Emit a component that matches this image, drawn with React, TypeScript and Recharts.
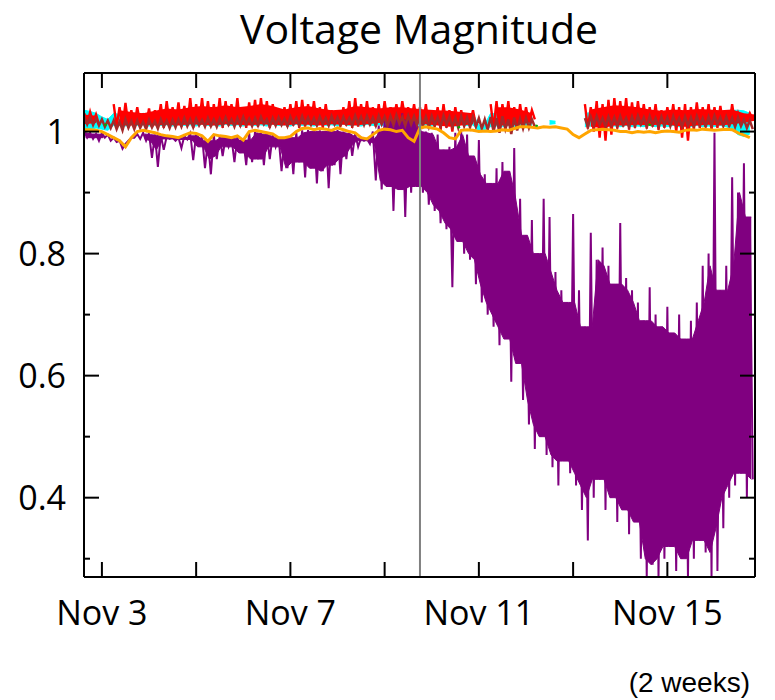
import { ComposedChart, Line, Area, XAxis, YAxis, ReferenceLine } from "recharts";

// time grid: one bin every 3 hours, starting Nov 2 15:00 (day-of-month units)
const T0 = 2.625;
const STEP = 0.125;
// coarser grid for the dense body of the red trace (every 6 hours)
const CORE_STEP = 0.25;

// bus voltage envelopes per bin (p.u.), hi = top of the bin, lo = bottom of the bin
const purpleHi = [
  1.0, 0.998, 0.996, 0.998, 0.995, 0.99, 0.985, 0.98, 0.99, 0.996,
  0.998, 0.997, 0.995, 0.994, 0.992, 0.99, 0.99, 0.993, 0.997, 0.996,
  0.993, 0.985, 0.994, 0.992, 0.99, 0.99, 0.992, 0.986, 0.998, 1.0,
  0.998, 0.996, 0.995, 0.99, 0.99, 0.99, 0.998, 1.002, 1.003, 1.0,
  1.002, 1.0, 1.0, 1.003, 1.0, 0.998, 0.996, 0.99, 0.988, 1.0,
  1.01, 1.02, 1.025, 1.02, 1.03, 1.025, 1.02, 1.015, 1.0, 0.998,
  0.995, 0.97, 0.975, 0.998, 1.0, 0.995, 0.96, 0.986, 0.93, 0.915,
  0.94, 0.95, 0.935, 0.973, 0.89, 0.83, 0.855, 0.8, 0.89, 0.86,
  0.77, 0.74, 0.72, 0.865, 0.74, 0.68, 0.834, 0.79, 0.81, 0.78,
  0.75, 0.85, 0.76, 0.74, 0.72, 0.69, 0.745, 0.7, 0.68, 0.713,
  0.67, 0.7, 0.66, 0.69, 0.72, 0.78, 0.8, 0.998, 0.74, 0.78,
  0.925, 0.9, 0.948, 0.86,
];
const purpleLo = [
  0.99, 0.988, 0.985, 0.99, 0.985, 0.983, 0.972, 0.985, 0.99, 0.988,
  0.985, 0.957, 0.942, 0.97, 0.988, 0.985, 0.973, 0.987, 0.953, 0.975,
  0.94, 0.93, 0.955, 0.96, 0.975, 0.95, 0.965, 0.945, 0.95, 0.955,
  0.945, 0.955, 0.975, 0.935, 0.94, 0.93, 0.95, 0.925, 0.94, 0.915,
  0.935, 0.907, 0.945, 0.93, 0.955, 0.96, 0.975, 0.985, 0.98, 0.92,
  0.905, 0.91, 0.87, 0.905, 0.86, 0.9, 0.91, 0.9, 0.88, 0.87,
  0.85, 0.84, 0.745, 0.82, 0.8, 0.79, 0.75, 0.72, 0.7, 0.68,
  0.65, 0.66, 0.59, 0.62, 0.56, 0.52, 0.48, 0.5, 0.47, 0.45,
  0.42, 0.46, 0.44, 0.42, 0.38, 0.33, 0.4, 0.43, 0.38, 0.4,
  0.36, 0.38, 0.34, 0.36, 0.3, 0.27, 0.29, 0.27, 0.3, 0.32,
  0.28, 0.3, 0.27, 0.3, 0.33, 0.31, 0.27, 0.28, 0.35, 0.4,
  0.42, 0.44, 0.4, 0.43,
];

const redHi = [
  1.03, 1.032, 1.028, null, null, 1.045, 1.04, 1.047, 1.035, 1.04,
  1.03, 1.038, 1.035, 1.045, 1.05, 1.04, 1.048, 1.042, 1.055, 1.045,
  1.055, 1.05, 1.045, 1.055, 1.05, 1.045, 1.055, 1.04, 1.048, 1.052,
  1.055, 1.05, 1.045, 1.035, 1.04, 1.045, 1.05, 1.052, 1.045, 1.05,
  1.04, 1.045, 1.035, 1.03, 1.04, 1.05, 1.055, 1.045, 1.05, 1.04,
  1.045, 1.05, 1.04, 1.045, 1.05, 1.04, 1.045, 1.04, 1.045, 1.035,
  1.04, 1.045, 1.035, 1.04, 1.035, 1.03, 1.035, null, null, 1.045,
  1.05, 1.045, 1.05, 1.04, 1.045, 1.04, 1.035, null, null, null,
  null, null, null, null, null, 1.045, 1.04, 1.05, 1.045, 1.052,
  1.055, 1.05, 1.055, 1.048, 1.05, 1.045, 1.04, 1.045, 1.035, 1.04,
  1.045, 1.04, 1.045, 1.04, 1.048, 1.04, 1.045, 1.04, 1.042, 1.035,
  1.045, 1.03, 1.025, 1.03,
];
const redLo = [
  1.012, 1.015, 1.012, null, null, 1.008, 1.006, 1.01, 1.008, 1.012,
  1.01, 1.008, 1.012, 1.006, 1.01, 1.012, 1.008, 1.01, 1.006, 1.012,
  1.01, 1.008, 1.012, 1.006, 1.01, 1.012, 1.008, 1.006, 1.01, 1.008,
  1.012, 1.006, 1.01, 1.012, 1.008, 1.01, 1.006, 1.008, 1.012, 1.01,
  1.006, 1.01, 1.012, 1.008, 1.01, 1.006, 1.008, 1.012, 1.01, 1.008,
  1.012, 1.015, 1.018, 1.015, 1.02, 1.015, 1.012, 1.008, 1.005, 1.008,
  1.003, 1.006, 1.0, 1.008, 1.01, 1.012, 1.01, null, null, 1.005,
  1.0, 1.008, 1.003, 1.006, 1.01, 1.015, 1.02, null, null, null,
  null, null, null, null, null, 1.005, 1.0, 0.99, 0.985, 0.995,
  1.005, 1.008, 1.003, 1.006, 1.01, 1.005, 1.008, 1.003, 1.006, 1.01,
  1.0, 0.99, 0.985, 1.003, 1.006, 1.008, 1.003, 1.006, 1.01, 1.008,
  1.012, 1.015, 1.018, 1.02,
];
// dense body of the red trace, on the 6-hour grid
const redCoreLo = [
  1.012, 1.014, null, 1.01, 1.01, 1.012, 1.01, 1.011, 1.01, 1.012,
  1.011, 1.01, 1.012, 1.011, 1.01, 1.012, 1.011, 1.01, 1.012, 1.011,
  1.01, 1.012, 1.011, 1.01, 1.012, 1.014, 1.016, 1.018, 1.015, 1.012,
  1.01, 1.008, 1.01, 1.012, null, 1.01, 1.01, 1.012, 1.016, null,
  null, null, null, 1.008, 1.006, 1.01, 1.01, 1.011, 1.01, 1.012,
  1.01, 1.008, 1.01, 1.011, 1.01, 1.012, 1.015, 1.018,
];
const redCoreHi = [
  1.028, 1.026, null, 1.035, 1.032, 1.03, 1.034, 1.038, 1.036, 1.04,
  1.042, 1.04, 1.043, 1.04, 1.042, 1.045, 1.042, 1.036, 1.04, 1.042,
  1.038, 1.035, 1.036, 1.042, 1.04, 1.038, 1.04, 1.04, 1.038, 1.036,
  1.035, 1.034, 1.032, 1.03, null, 1.04, 1.04, 1.036, 1.03, null,
  null, null, null, 1.036, 1.04, 1.043, 1.042, 1.04, 1.036, 1.034,
  1.036, 1.035, 1.037, 1.036, 1.035, 1.036, 1.03, 1.028,
];

const brownHi = [
  1.025, 1.024, 1.022, 1.02, 1.018, 1.018, 1.016, 1.02, 1.017, 1.018,
  1.016, 1.019, 1.017, 1.02, 1.018, 1.019, 1.02, 1.022, 1.02, 1.021,
  1.019, 1.022, 1.02, 1.021, 1.023, 1.02, 1.022, 1.024, 1.021, 1.022,
  1.024, 1.02, 1.022, 1.023, 1.021, 1.024, 1.022, 1.025, 1.023, 1.022,
  1.024, 1.022, 1.025, 1.023, 1.024, 1.022, 1.026, 1.024, 1.025, 1.023,
  1.026, 1.024, 1.025, 1.027, 1.024, 1.026, 1.025, 1.026, 1.024, 1.025,
  1.023, 1.026, 1.024, 1.022, 1.025, 1.023, 1.024, 1.022, 1.02, 1.024,
  1.022, 1.025, 1.02, 1.023, 1.021, 1.022, 1.02, null, null, null,
  null, null, null, null, null, 1.022, 1.024, 1.025, 1.022, 1.024,
  1.023, 1.025, 1.022, 1.024, 1.026, 1.023, 1.025, 1.022, 1.024, 1.023,
  1.025, 1.022, 1.024, 1.023, 1.025, 1.022, 1.024, 1.026, 1.023, 1.024,
  1.022, 1.023, 1.02, 1.018,
];
const brownLo = [
  1.012, 1.011, 1.01, 1.008, 1.006, 1.004, 1.002, 1.006, 1.004, 1.006,
  1.004, 1.007, 1.005, 1.008, 1.006, 1.007, 1.008, 1.009, 1.007, 1.01,
  1.008, 1.009, 1.008, 1.01, 1.011, 1.008, 1.01, 1.011, 1.009, 1.01,
  1.012, 1.008, 1.01, 1.011, 1.009, 1.012, 1.01, 1.012, 1.011, 1.01,
  1.012, 1.01, 1.012, 1.011, 1.012, 1.01, 1.013, 1.011, 1.012, 1.01,
  1.012, 1.01, 1.011, 1.013, 1.01, 1.012, 1.011, 1.01, 1.008, 1.01,
  1.008, 1.011, 1.008, 1.006, 1.009, 1.007, 1.008, 1.005, 1.003, 1.0,
  0.998, 1.004, 0.996, 1.002, 1.005, 1.006, 1.008, null, null, null,
  null, null, null, null, null, 1.008, 1.01, 1.011, 1.008, 1.01,
  1.009, 1.011, 1.008, 1.01, 1.012, 1.009, 1.011, 1.008, 1.01, 1.009,
  1.011, 1.008, 1.01, 1.009, 1.011, 1.008, 1.01, 1.012, 1.009, 1.01,
  1.008, 1.009, 1.006, 1.004,
];

const cyanHi = [
  1.035, 1.033, 1.03, 1.024, 1.02, 1.03, 1.028, 1.032, 1.03, 1.027,
  1.03, 1.028, 1.032, 1.03, 1.029, 1.031, 1.028, 1.03, 1.032, 1.029,
  1.03, 1.028, 1.031, 1.03, 1.029, 1.032, 1.03, 1.028, 1.03, 1.031,
  1.029, 1.03, 1.032, 1.028, 1.03, 1.031, 1.029, 1.03, 1.032, 1.028,
  1.03, 1.031, 1.029, 1.03, 1.032, 1.028, 1.03, 1.031, 1.029, 1.03,
  1.032, 1.03, 1.031, 1.029, 1.03, 1.032, 1.03, 1.035, 1.03, 1.031,
  1.029, 1.03, 1.028, 1.03, 1.031, 1.029, 1.03, 1.01, 1.012, 1.03,
  1.029, 1.031, 1.03, 1.028, 1.03, 1.031, 1.029, null, null, 1.018,
  1.017, null, null, null, null, 1.03, 1.031, 1.029, 1.03, 1.032,
  1.03, 1.028, 1.031, 1.03, 1.029, 1.032, 1.03, 1.028, 1.03, 1.031,
  1.029, 1.03, 1.032, 1.028, 1.03, 1.031, 1.029, 1.03, 1.032, 1.03,
  1.035, 1.035, 1.034, 1.03,
];
const cyanLo = [
  1.005, 1.003, 1.006, 1.004, 1.002, 1.01, 1.011, 1.009, 1.012, 1.01,
  1.011, 1.009, 1.012, 1.01, 1.011, 1.009, 1.012, 1.01, 1.011, 1.009,
  1.012, 1.01, 1.011, 1.009, 1.012, 1.01, 1.011, 1.009, 1.012, 1.01,
  1.011, 1.009, 1.012, 1.01, 1.011, 1.009, 1.012, 1.01, 1.011, 1.009,
  1.012, 1.01, 1.011, 1.009, 1.012, 1.01, 1.011, 1.009, 1.012, 1.01,
  1.011, 1.009, 1.012, 1.01, 1.011, 1.009, 1.012, 1.01, 1.011, 1.009,
  1.012, 1.01, 1.011, 1.009, 1.012, 1.01, 1.011, 1.0, 1.003, 1.008,
  1.009, 1.008, 1.01, 1.008, 1.009, 1.008, 1.01, null, null, 1.012,
  1.013, null, null, null, null, 1.008, 1.009, 1.008, 1.01, 1.008,
  1.009, 1.008, 1.01, 1.008, 1.009, 1.008, 1.01, 1.008, 1.009, 1.008,
  1.01, 1.008, 1.009, 1.008, 1.01, 1.008, 1.009, 1.008, 1.01, 1.008,
  1.004, 0.995, 0.992, 0.996,
];

const orange = [
  1.003, 1.003, 1.002, 1.0, 0.995, 0.99, 0.985, 0.975, 0.99, 1.0,
  1.002, 1.0, 0.998, 0.995, 0.993, 0.992, 0.99, 0.994, 0.998, 0.997,
  0.993, 0.984, 0.995, 0.993, 0.992, 0.99, 0.993, 0.986, 1.0, 1.002,
  1.0, 0.998, 0.996, 0.99, 0.99, 0.992, 1.0, 1.005, 1.006, 1.003,
  1.005, 1.004, 1.002, 1.006, 1.003, 1.0, 0.998, 0.99, 0.988, 0.995,
  1.002, 1.004, 1.003, 1.0, 1.002, 0.99, 0.984, 1.006, 1.008, 1.006,
  1.004, 0.998, 0.99, 0.988, 1.002, 1.003, 1.002, 1.0, 1.001, 1.0,
  1.001, 1.003, 1.002, 1.005, 1.008, 1.008, 1.007, 1.006, 1.008, 1.007,
  1.008, 1.006, 1.004, 0.995, 0.99, 0.996, 1.002, 1.003, 1.004, 1.003,
  1.002, 1.0, 1.0, 0.998, 1.0, 0.999, 1.0, 0.998, 1.0, 1.001,
  1.0, 0.999, 1.002, 1.003, 1.002, 1.004, 1.003, 1.002, 1.003, 1.004,
  1.003, 0.998, 0.994, 0.99,
];

// short green traces
const greenT = [3.05, 3.1, 10.55, 10.6, 12.2, 12.25, 14.6, 14.65];
const greenV = [1.01, 1.012, 1.006, 1.008, 1.01, 1.009, 1.012, 1.01];

const X_TICKS = [3, 5, 7, 9, 11, 13, 15];
const X_LABELS = [3, 7, 11, 15];
const Y_TICKS = [0.3, 0.4, 0.5, 0.6, 0.7, 0.8, 0.9, 1.0];
const EVENT_DAY = 9.75;

const X_DOMAIN: [number, number] = [2.62, 16.86];
const Y_DOMAIN: [number, number] = [0.27, 1.096];

// each bin becomes two rows: its top, then its bottom half a bin later
const rows = purpleHi.flatMap((_, i) => [
  { t: T0 + i * STEP, purple: purpleHi[i], red: redHi[i], brown: brownHi[i], orange: orange[i] },
  { t: T0 + i * STEP + STEP / 2, purple: purpleLo[i], red: redLo[i], brown: brownLo[i] },
]);

type Val = number | null;

const band = (lo: Val[], hi: Val[], t0: number, step: number) =>
  lo.map((l, k) => ({ t: t0 + k * step, v: l == null || hi[k] == null ? null : [l, hi[k]] }));

// solid part of a trace: the range that a bin shares with both neighbours
const sharedBand = (lo: Val[], hi: Val[]) =>
  lo.map((_, i) => {
    const js = [i - 1, i, i + 1].filter((j) => j >= 0 && j < lo.length);
    const los = js.map((j) => lo[j]);
    const his = js.map((j) => hi[j]);
    const t = T0 + i * STEP + STEP / 4;
    if (los.some((v) => v == null) || his.some((v) => v == null)) return { t, v: null };
    const top = Math.min(...(his as number[]));
    const bottom = Math.max(...(los as number[]));
    return { t, v: top > bottom ? [bottom, top] : null };
  });

const cyanBand = band(cyanLo, cyanHi, T0, STEP);
const redCore = band(redCoreLo, redCoreHi, T0, CORE_STEP);
const purpleCore = sharedBand(purpleLo, purpleHi);

const greenRows = greenT.map((t, i) => ({ t, green: greenV[i] }));
// break between the short traces
const greenData = greenRows.flatMap((r, i) => (i % 2 === 1 ? [r, { t: r.t + 0.01, green: null }] : [r]));

const FONT = "'Open Sans', 'Noto Sans', sans-serif";

function BottomTick(props: any) {
  const { x, y, payload } = props;
  const d = payload.value;
  return (
    <g>
      <line x1={x} y1={y} x2={x} y2={y - 15} stroke="#000" strokeWidth={2} />
      {X_LABELS.includes(d) && (
        <text x={x} y={y + 48} textAnchor="middle" fontSize={34} fontFamily={FONT} fill="#000">
          Nov {d}
        </text>
      )}
    </g>
  );
}

function TopTick(props: any) {
  const { x, y } = props;
  return <line x1={x} y1={y} x2={x} y2={y + 15} stroke="#000" strokeWidth={2} />;
}

const isMajor = (v: number) => Math.round(v * 10) % 2 === 0;

function LeftTick(props: any) {
  const { x, y, payload } = props;
  const v = payload.value;
  const len = isMajor(v) ? 15 : 6;
  return (
    <g>
      <line x1={x} y1={y} x2={x + len} y2={y} stroke="#000" strokeWidth={2} />
      {isMajor(v) && (
        <text x={x - 18} y={y + 12} textAnchor="end" fontSize={34} fontFamily={FONT} fill="#000">
          {v === 1 ? "1" : v.toFixed(1)}
        </text>
      )}
    </g>
  );
}

function RightTick(props: any) {
  const { x, y, payload } = props;
  const len = isMajor(payload.value) ? 15 : 6;
  return <line x1={x} y1={y} x2={x - len} y2={y} stroke="#000" strokeWidth={2} />;
}

const axisLine = { stroke: "#000", strokeWidth: 2 };
const ids = { xAxisId: "b", yAxisId: "l" };

export default function App() {
  return (
    <div style={{ position: "fixed", left: 0, top: 0, width: 775, height: 700, background: "#fff" }}>
      <ComposedChart width={775} height={700} data={rows} margin={{ top: 72, right: 19, bottom: 122, left: 83 }}>
        <XAxis xAxisId="b" dataKey="t" type="number" domain={X_DOMAIN} allowDataOverflow ticks={X_TICKS} interval={0}
          height={1} tickSize={0} tickMargin={0} tickLine={false} axisLine={axisLine} tick={BottomTick} />
        <XAxis xAxisId="t" orientation="top" dataKey="t" type="number" domain={X_DOMAIN} allowDataOverflow ticks={X_TICKS}
          interval={0} height={1} tickSize={0} tickMargin={0} tickLine={false} axisLine={axisLine} tick={TopTick} />
        <YAxis yAxisId="l" type="number" domain={Y_DOMAIN} allowDataOverflow ticks={Y_TICKS} interval={0}
          width={1} tickSize={0} tickMargin={0} tickLine={false} axisLine={axisLine} tick={LeftTick} />
        <YAxis yAxisId="r" orientation="right" type="number" domain={Y_DOMAIN} allowDataOverflow ticks={Y_TICKS}
          interval={0} width={1} tickSize={0} tickMargin={0} tickLine={false} axisLine={axisLine} tick={RightTick} />

        <Area {...ids} data={cyanBand} dataKey="v" type="linear" stroke="#00ffff" strokeWidth={1} fill="#00ffff" fillOpacity={1}
          dot={false} activeDot={false} isAnimationActive={false} />
        <Area {...ids} data={redCore} dataKey="v" type="linear" stroke="none" fill="#ff0000" fillOpacity={1}
          dot={false} activeDot={false} isAnimationActive={false} />
        <Area {...ids} data={purpleCore} dataKey="v" type="linear" stroke="#800080" strokeWidth={1} fill="#800080" fillOpacity={1}
          dot={false} activeDot={false} isAnimationActive={false} />

        <Line {...ids} dataKey="red" stroke="#ff0000" strokeWidth={2.4} dot={false} isAnimationActive={false} />
        <Line {...ids} dataKey="purple" stroke="#800080" strokeWidth={2} dot={false} isAnimationActive={false} />
        <Line {...ids} dataKey="brown" stroke="#a52a2a" strokeWidth={2.5} dot={false} isAnimationActive={false} />
        <Line {...ids} dataKey="orange" stroke="#ffa500" strokeWidth={3} dot={false} connectNulls isAnimationActive={false} />
        <Line {...ids} data={greenData} dataKey="green" stroke="#00b000" strokeWidth={2} dot={false} isAnimationActive={false} />
        <ReferenceLine {...ids} x={EVENT_DAY} stroke="#808080" strokeWidth={2} />
      </ComposedChart>
      <svg width={775} height={700} style={{ position: "absolute", left: 0, top: 0, pointerEvents: "none" }}>
        <text x={419} y={44} textAnchor="middle" fontSize={41} fontFamily={FONT} fill="#000">
          Voltage Magnitude
        </text>
        <text x={750} y={692} textAnchor="end" fontSize={28} fontFamily="'Liberation Sans', Arial, sans-serif" fill="#000">
          (2 weeks)
        </text>
      </svg>
    </div>
  );
}
